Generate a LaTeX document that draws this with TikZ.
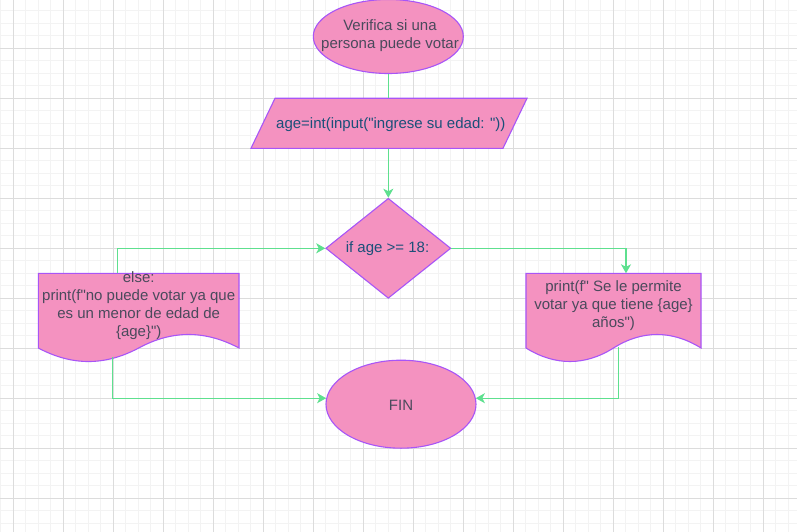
\documentclass[tikz,border=0pt]{standalone}
\usepackage{fontspec}
\setmainfont{Liberation Sans}[Ligatures=TeXOff]
\usetikzlibrary{shapes.geometric,arrows.meta,calc}
\definecolor{pinkfill}{HTML}{F492C0}
\definecolor{purp}{HTML}{A855F7}
\definecolor{conn}{HTML}{5EE08F}
\definecolor{txtgrey}{HTML}{4A4A5C}
\definecolor{txtblue}{HTML}{1B5079}
\definecolor{gridmin}{HTML}{F3F3F3}
\definecolor{gridmaj}{HTML}{DCDCDC}
\tikzset{
  shapebox/.style={draw=purp, fill=pinkfill, line width=1.1pt},
  conline/.style={draw=conn, line width=1.3pt},
  conarrow/.style={conline, -{Stealth[length=9pt,width=10pt,inset=2.5pt]}},
  lbl/.style={font=\fontsize{15pt}{18pt}\selectfont, align=center, text=txtgrey, inner sep=0pt},
  lblblue/.style={lbl, text=txtblue},
}
\begin{document}
\begin{tikzpicture}[x=1pt,y=-1pt]
\useasboundingbox (0,0) rectangle (797,532);
\fill[white] (0,0) rectangle (797,532);
% grid
\foreach \x in {0.8,13.3,...,797} \draw[gridmin, line width=1pt] (\x,0) -- (\x,532);
\foreach \y in {-1.7,10.8,...,532} \draw[gridmin, line width=1pt] (0,\y) -- (797,\y);
\foreach \x in {13.3,63.3,...,797} \draw[gridmaj, line width=0.8pt] (\x,0) -- (\x,532);
\foreach \y in {48.3,98.3,...,532} \draw[gridmaj, line width=0.8pt] (0,\y) -- (797,\y);

% start ellipse
\node[ellipse, shapebox, minimum width=150pt, minimum height=74pt, inner sep=0pt] (start) at (388.3,36.5) {};
\node[lbl] (starttxt) at (390,36) {Verifica si una\\persona puede votar};

% input parallelogram
\node[minimum width=252pt, minimum height=50pt, inner sep=0pt] (inp) at (389,123.3) {};
\path[shapebox] (275,98.3) -- (527,98.3) -- (503,148.3) -- (251,148.3) -- cycle;
\node[lblblue] (inptxt) at (390.8,125) {age=int(input("ingrese su edad: "))};

% decision diamond
\node[diamond, shapebox, minimum width=125pt, minimum height=100pt, inner sep=0pt] (dia) at (388.3,248.3) {};
\node[lblblue] (diatxt) at (387.5,249) {if age >= 18:};

% left document
\node[minimum width=200.7pt, minimum height=75pt, inner sep=0pt] (docL) at (138.7,310.7) {};
\path[shapebox] (38.3,273.3) -- (239,273.3) -- (239,348)
  .. controls (205,330) and (172,330) .. (138.7,348)
  .. controls (105,366) and (72,366) .. (38.3,348) -- cycle;
\node[lbl] (docLtxt) at (138.7,306) {else:\\print(f"no puede votar ya que\\es un menor de edad de\\\{age\}")};

% right document
\node[minimum width=175pt, minimum height=75pt, inner sep=0pt] (docR) at (613.5,310.7) {};
\path[shapebox] (526,273.3) -- (701,273.3) -- (701,348)
  .. controls (672,330) and (642,330) .. (613.5,348)
  .. controls (585,366) and (555,366) .. (526,348) -- cycle;
\node[lbl] (docRtxt) at (613.5,306) {print(f" Se le permite\\votar ya que tiene \{age\}\\años")};

% end ellipse
\node[ellipse, shapebox, minimum width=150pt, minimum height=88pt, inner sep=0pt] (fin) at (401,404.2) {};
\node[lbl] (fintxt) at (401,405) {FIN};

% connection points
\coordinate (ltop) at (117.3,273.3);
\coordinate (lbot) at (112.3,356.7);
\coordinate (rtop) at (626,273.3);
\coordinate (rbot) at (618.7,346.7);
\coordinate (finL) at ($(fin.west)+(0.7,-6)$);
\coordinate (finR) at ($(fin.east)+(-0.7,-6)$);

% connectors
\draw[conline] (start.south) -- (start.south |- inp.north);
\draw[conarrow] (start.south |- inp.south) -- (dia.north);
\draw[conarrow] (dia.east) -| (rtop);
\draw[conarrow] (ltop) |- (dia.west);
\draw[conarrow] (lbot) |- (finL);
\draw[conarrow] (rbot) |- (finR);
\end{tikzpicture}
\end{document}
